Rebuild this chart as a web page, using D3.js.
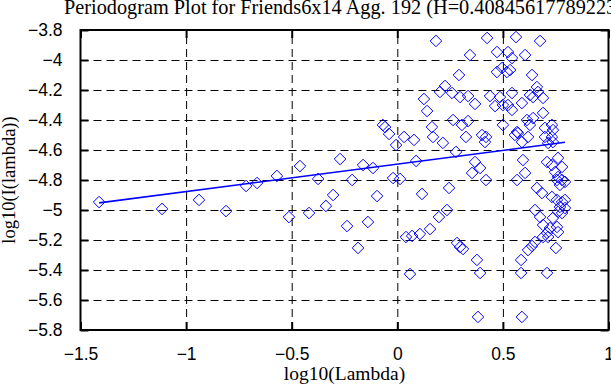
<!DOCTYPE html>
<html>
<head>
<meta charset="utf-8">
<style>
  body { margin: 0; background: #fff; }
  svg { display: block; font-family: "Liberation Serif", "DejaVu Serif", serif; }
  .grid line { stroke: #000; stroke-width: 1; stroke-dasharray: 8,5; }
  .grid .domain { display: none; }
  .frame .domain { display: none; }
  .frame line { stroke: #000; stroke-width: 2; }
  .frame text { font-size: 17.5px; fill: #000; }
</style>
</head>
<body>
<svg width="611" height="385"></svg>
<script src="https://d3js.org/d3.v7.min.js"></script>
<script>
const title = "Periodogram Plot for Friends6x14 Agg. 192 (H=0.408456177892237)";
const xLabel = "log10(Lambda)";
const yLabel = "log10(I(lambda))";

const xTicks = [-1.5, -1, -0.5, 0, 0.5, 1];
const yTicks = [-5.8, -5.6, -5.4, -5.2, -5, -4.8, -4.6, -4.4, -4.2, -4, -3.8];

// log10(lambda) of each periodogram point
const logLambda = [
  -1.412, -1.114, -0.939, -0.811, -0.716, -0.664, -0.570, -0.513, -0.461, -0.418,
  -0.375, -0.338, -0.304, -0.271, -0.238, -0.214, -0.186, -0.162, -0.139, -0.115,
  -0.096, -0.068, -0.058, -0.039, -0.020, -0.006, 0.013, 0.032, 0.041, 0.060,
  0.070, 0.079, 0.089, 0.107, 0.117, 0.126, 0.141, 0.155, 0.164, 0.169,
  0.183, 0.197, 0.202, 0.216, 0.226, 0.235, 0.245, 0.259, 0.264, 0.278,
  0.283, 0.292, 0.297, 0.297, 0.306, 0.311, 0.325, 0.335, 0.335, 0.344,
  0.354, 0.368, 0.368, 0.377, 0.382, 0.392, 0.392, 0.401, 0.415, 0.420,
  0.420, 0.425, 0.439, 0.463, 0.472, 0.524, 0.543, 0.562, 0.605, 0.676,
  0.472, 0.496, 0.519, 0.534, 0.638, 0.661, 0.666, 0.628, 0.690, 0.643,
  0.543, 0.486, 0.500, 0.524, 0.543, 0.590, 0.690, 0.614, 0.643, 0.628,
  0.732, 0.699, 0.737, 0.500, 0.567, 0.557, 0.571, 0.619, 0.590, 0.699,
  0.732, 0.737, 0.714, 0.595, 0.761, 0.709, 0.732, 0.780, 0.605, 0.567,
  0.747, 0.761, 0.756, 0.780, 0.794, 0.770, 0.661, 0.685, 0.732, 0.756,
  0.780, 0.794, 0.770, 0.794, 0.761, 0.780, 0.652, 0.676, 0.737, 0.756,
  0.723, 0.761, 0.709, 0.690, 0.714, 0.690, 0.586, 0.619, 0.638, 0.652,
  0.586, 0.709, 0.751, 0.590
];
// log10(I(lambda)) of each point
const logI = [
  -4.947, -4.993, -4.933, -5.007, -4.840, -4.820, -4.773, -5.047, -4.707, -5.020,
  -4.793, -4.973, -4.900, -4.660, -5.107, -4.800, -5.253, -4.700, -5.080, -4.720,
  -4.907, -4.433, -4.447, -4.493, -4.787, -4.567, -4.793, -4.513, -5.180, -5.427,
  -5.173, -4.533, -4.673, -5.160, -4.893, -4.260, -4.340, -5.127, -4.447, -4.513,
  -3.873, -5.047, -4.213, -4.553, -4.173, -5.000, -4.853, -4.220, -4.400, -4.613,
  -5.220, -4.100, -4.247, -5.247, -4.433, -5.260, -4.513, -4.240, -4.407, -3.967,
  -4.753, -4.293, -4.680, -5.333, -5.713, -4.720, -5.420, -4.500, -4.547, -4.513,
  -4.800, -3.853, -4.240, -4.307, -3.947, -3.947, -3.987, -3.847, -3.967, -3.873,
  -4.080, -4.053, -4.080, -4.067, -4.100, -4.180, -4.213, -4.233, -4.253, -4.247,
  -4.220, -4.247, -4.300, -4.300, -4.333, -4.287, -4.353, -4.400, -4.387, -4.433,
  -4.433, -4.453, -4.467, -4.433, -4.480, -4.500, -4.487, -4.513, -4.547, -4.513,
  -4.513, -4.547, -4.553, -4.667, -4.653, -4.680, -4.700, -4.713, -4.753, -4.800,
  -4.747, -4.780, -4.800, -4.800, -4.813, -4.833, -4.853, -4.887, -4.913, -4.933,
  -4.947, -4.933, -4.980, -4.987, -5.013, -5.020, -5.000, -5.047, -5.053, -5.113,
  -5.120, -5.147, -5.153, -5.100, -5.180, -5.180, -5.333, -5.267, -5.240, -5.213,
  -5.420, -5.420, -5.253, -5.713
];

// least squares fit: slope = 1 - 2H
const H = 0.408456177892237;
const fitSlope = 1 - 2 * H;
const fitIntercept = -4.694;

const svg = d3.select("svg");
const margin = {top: 30, right: 2.5, bottom: 55, left: 80.5};
const width = 611, height = 385;

const x = d3.scaleLinear().domain([-1.5, 1]).range([margin.left, width - margin.right]);
const y = d3.scaleLinear().domain([-5.8, -3.8]).range([height - margin.bottom, margin.top]);

const fmt = d => String(+d.toFixed(2)).replace("-", "\u2212");
const innerW = x.range()[1] - x.range()[0];
const innerH = y.range()[0] - y.range()[1];

// dashed grid
svg.append("g").attr("class", "grid")
  .attr("transform", `translate(0,${y(-5.8)})`)
  .call(d3.axisBottom(x).tickValues(xTicks.slice(1, -1)).tickSize(-innerH).tickFormat(""));
svg.append("g").attr("class", "grid")
  .attr("transform", `translate(${x(-1.5)},0)`)
  .call(d3.axisLeft(y).tickValues(yTicks.slice(1, -1)).tickSize(-innerW).tickFormat(""));

// points
const points = logLambda.map((v, i) => ({lx: v, li: logI[i]}));
const diamond = d3.symbol().type(d3.symbolDiamond2).size(85);
svg.append("g")
  .selectAll("path")
  .data(points)
  .join("path")
  .attr("d", diamond)
  .attr("transform", d => `translate(${x(d.lx)},${y(d.li)})`)
  .attr("fill", "none")
  .attr("stroke", "#0000ff")
  .attr("stroke-width", 1);

// fit line
const [x0, x1] = d3.extent(logLambda);
svg.append("line")
  .attr("x1", x(x0)).attr("y1", y(fitIntercept + fitSlope * x0))
  .attr("x2", x(x1)).attr("y2", y(fitIntercept + fitSlope * x1))
  .attr("stroke", "#0000ff")
  .attr("stroke-width", 1.6);

// axes with inward ticks
svg.append("g").attr("class", "frame")
  .attr("transform", `translate(0,${y(-5.8)})`)
  .call(d3.axisBottom(x).tickValues(xTicks).tickSize(-8).tickPadding(18).tickFormat(fmt));
svg.append("g").attr("class", "frame")
  .attr("transform", `translate(0,${y(-3.8)})`)
  .call(d3.axisTop(x).tickValues(xTicks).tickSize(-8).tickFormat(""));
svg.append("g").attr("class", "frame")
  .attr("transform", `translate(${x(-1.5)},0)`)
  .call(d3.axisLeft(y).tickValues(yTicks).tickSize(-8).tickPadding(18).tickFormat(fmt));
svg.append("g").attr("class", "frame")
  .attr("transform", `translate(${x(1)},0)`)
  .call(d3.axisRight(y).tickValues(yTicks).tickSize(-8).tickFormat(""));

svg.append("rect")
  .attr("x", x(-1.5)).attr("y", y(-3.8))
  .attr("width", innerW).attr("height", innerH)
  .attr("fill", "none").attr("stroke", "#000").attr("stroke-width", 2);

// texts
svg.append("text")
  .attr("x", 64).attr("y", 14)
  .attr("font-size", 20.3)
  .text(title);

svg.append("text")
  .attr("x", (x(-1.5) + x(1)) / 2).attr("y", 380)
  .attr("text-anchor", "middle")
  .attr("font-size", 19.5)
  .text(xLabel);

svg.append("text")
  .attr("transform", `translate(15,${(y(-3.8) + y(-5.8)) / 2}) rotate(-90)`)
  .attr("text-anchor", "middle")
  .attr("font-size", 18.5)
  .text(yLabel);
</script>
</body>
</html>
